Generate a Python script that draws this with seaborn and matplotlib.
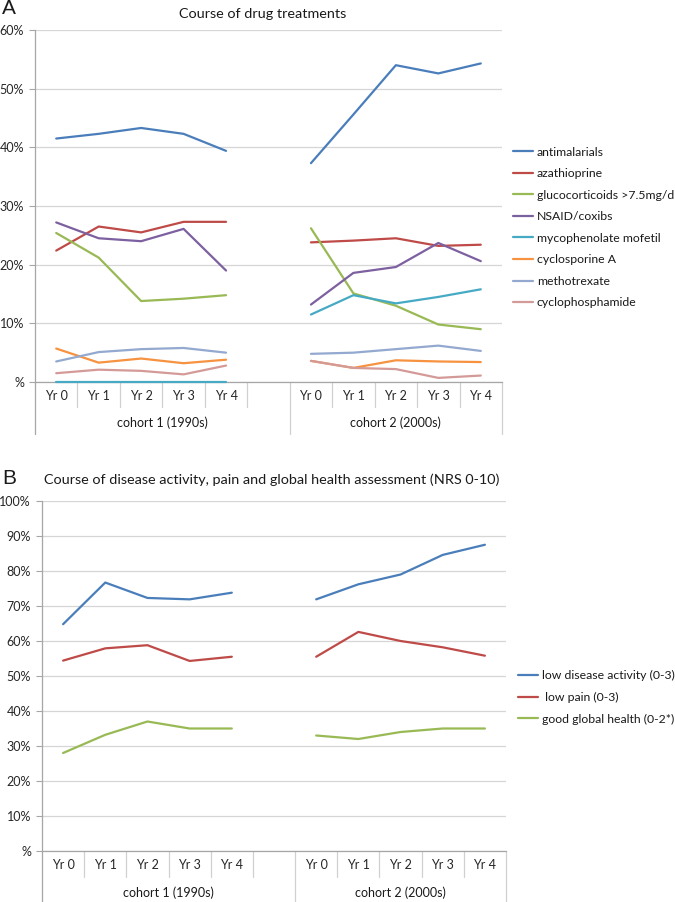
import numpy as np
import pandas as pd
import matplotlib
matplotlib.use("Agg")
import matplotlib.pyplot as plt
import seaborn as sns

# ---------------- data ----------------
years = ["Yr 0", "Yr 1", "Yr 2", "Yr 3", "Yr 4"]
cohorts = ["cohort 1 (1990s)", "cohort 2 (2000s)"]

drug_names = ["antimalarials", "azathioprine", "glucocorticoids >7.5mg/d",
              "NSAID/coxibs", "mycophenolate mofetil", "cyclosporine A",
              "methotrexate", "cyclophosphamide"]
# values in %, cohort 1 (Yr0..Yr4) then cohort 2 (Yr0..Yr4)
antimalarials    = [41.5, 42.3, 43.3, 42.3, 39.4,   37.3, 45.6, 54.0, 52.6, 54.3]
azathioprine     = [22.4, 26.5, 25.5, 27.3, 27.3,   23.8, 24.1, 24.5, 23.2, 23.4]
glucocorticoids  = [25.4, 21.2, 13.8, 14.2, 14.8,   26.2, 15.1, 13.0, 9.8, 9.0]
nsaid_coxibs     = [27.2, 24.5, 24.0, 26.1, 19.0,   13.2, 18.6, 19.6, 23.7, 20.6]
mycophenolate    = [0.0, 0.0, 0.0, 0.0, 0.0,        11.5, 14.8, 13.4, 14.5, 15.8]
cyclosporine     = [5.7, 3.3, 4.0, 3.2, 3.8,        3.6, 2.4, 3.7, 3.5, 3.4]
methotrexate     = [3.5, 5.1, 5.6, 5.8, 5.0,        4.8, 5.0, 5.6, 6.2, 5.3]
cyclophosphamide = [1.5, 2.1, 1.9, 1.3, 2.8,        3.6, 2.4, 2.2, 0.7, 1.1]
drug_values = [antimalarials, azathioprine, glucocorticoids, nsaid_coxibs,
               mycophenolate, cyclosporine, methotrexate, cyclophosphamide]
drug_colors = ["#4A7EBB", "#BE4B48", "#98B954", "#7D60A0",
               "#46AAC5", "#F69240", "#93A9CF", "#D49A98"]

outcome_names = ["low disease activity (0-3)", " low pain (0-3)",
                 "good global health (0-2*)"]
low_disease_activity = [64.8, 76.7, 72.3, 71.9, 73.8,   71.9, 76.2, 79.0, 84.6, 87.5]
low_pain             = [54.4, 57.9, 58.8, 54.3, 55.5,   55.5, 62.6, 60.0, 58.2, 55.8]
good_global_health   = [28.0, 33.2, 37.0, 35.0, 35.0,   33.0, 32.0, 34.0, 35.0, 35.0]
outcome_values = [low_disease_activity, low_pain, good_global_health]
outcome_colors = ["#4A7EBB", "#BE4B48", "#98B954"]

yticks_A = [0, 10, 20, 30, 40, 50, 60]
yticklabels_A = ["%", "10%", "20%", "30%", "40%", "50%", "60%"]
yticks_B = [0, 10, 20, 30, 40, 50, 60, 70, 80, 90, 100]
yticklabels_B = ["%", "10%", "20%", "30%", "40%", "50%", "60%", "70%",
                 "80%", "90%", "100%"]

title_A = "Course of drug treatments"
title_B = "Course of disease activity, pain and global health assessment (NRS 0-10)"


def long_frame(names, values):
    rows = []
    n = len(years)
    for name, vals in zip(names, values):
        for ci, coh in enumerate(cohorts):
            for yi, yr in enumerate(years):
                rows.append({"series": name, "cohort": coh,
                             "pos": yi + ci * (n + 1),
                             "value": vals[ci * n + yi]})
    return pd.DataFrame(rows)


dfA = long_frame(drug_names, drug_values)
dfB = long_frame(outcome_names, outcome_values)

# ---------------- style ----------------
sns.set_theme(style="white")
plt.rcParams['font.family'] = ['Lato', 'DejaVu Sans']
plt.rcParams['text.color'] = '#1a1a1a'

W, H = 675, 902
fig = plt.figure(figsize=(W / 100, H / 100), dpi=100)

GRID = "#D6D6D6"
AXC = "#A6A6A6"
SEP = "#D0D0D0"
FS_TICK = 9
FS_LEG = 8.8
FS_TITLE = 10.4


def px_axes(l, r, t, b):
    return fig.add_axes([l / W, 1 - b / H, (r - l) / W, (b - t) / H])


def style_axis(ax, yticks, yticklabels, ymax, row_px, low_px, coh_px, hpx):
    ax.set_xlim(-0.5, 2 * len(years) + 0.5)
    ax.set_ylim(0, ymax)
    pos = [yi + ci * (len(years) + 1) for ci in range(len(cohorts))
           for yi in range(len(years))]
    ax.set_xticks(pos)
    ax.set_xticklabels(years * len(cohorts), fontsize=FS_TICK)
    ax.set_yticks(yticks)
    ax.set_yticklabels(yticklabels, fontsize=FS_TICK)
    ax.tick_params(axis="x", length=0, pad=6)
    ax.tick_params(axis="y", length=4, width=0.8, color=AXC, pad=4,
                   direction="out", left=True)
    ax.yaxis.grid(True, color=GRID, lw=0.9)
    ax.xaxis.grid(False)
    ax.set_axisbelow(True)
    for s in ["top", "right"]:
        ax.spines[s].set_visible(False)
    ax.spines["left"].set_color(AXC)
    ax.spines["bottom"].set_color(AXC)
    ax.spines["left"].set_linewidth(0.9)
    ax.spines["bottom"].set_linewidth(0.9)
    ax.set_xlabel("")
    ax.set_ylabel("")
    tr = ax.get_xaxis_transform()
    n = len(years)
    bounds = [k - 0.5 for k in range(2 * n + 2)]
    majors = [-0.5, n + 0.5, 2 * n + 0.5]
    for b in bounds:
        if b in majors:
            ax.plot([b, b], [0, -low_px / hpx], transform=tr,
                    color=AXC if b == -0.5 else SEP, lw=0.9, clip_on=False)
        else:
            ax.plot([b, b], [0, -row_px / hpx], transform=tr, color=SEP,
                    lw=0.9, clip_on=False)
    centers = [(-0.5 + n + 0.5) / 2.0, (n + 0.5 + 2 * n + 0.5) / 2.0]
    for c, lab in zip(centers, cohorts):
        ax.text(c, -coh_px / hpx, lab, transform=tr, ha="center", va="center",
                fontsize=FS_TICK)


# ---------------- panel A ----------------
axA = px_axes(35, 502, 30, 382)
sns.lineplot(data=dfA, x="pos", y="value", hue="series", units="cohort",
             estimator=None, hue_order=drug_names, palette=drug_colors,
             lw=1.6, ax=axA, legend=True, zorder=3, clip_on=False)
style_axis(axA, yticks_A, yticklabels_A, 60, 25, 52, 41, 352)
hA, lA = axA.get_legend_handles_labels()
axA.legend(hA, lA, loc="center left", bbox_to_anchor=(513 / W, 1 - 227.5 / H),
           bbox_transform=fig.transFigure, frameon=False, fontsize=FS_LEG,
           handlelength=1.6, handletextpad=0.35, labelspacing=0.86,
           borderpad=0, borderaxespad=0)

fig.text(263 / W, 1 - 14 / H, title_A, ha="center", va="center", fontsize=FS_TITLE)
fig.text(9 / W, 1 - 9 / H, "A", ha="center", va="center", fontsize=15,
         family=["Liberation Sans", "DejaVu Sans"])

# ---------------- panel B ----------------
axB = px_axes(42, 506, 501, 851)
sns.lineplot(data=dfB, x="pos", y="value", hue="series", units="cohort",
             estimator=None, hue_order=outcome_names, palette=outcome_colors,
             lw=1.6, ax=axB, legend=True, zorder=3)
style_axis(axB, yticks_B, yticklabels_B, 100, 26, 60, 42, 350)
hB, lB = axB.get_legend_handles_labels()
axB.legend(hB, lB, loc="center left", bbox_to_anchor=(518 / W, 1 - 697.5 / H),
           bbox_transform=fig.transFigure, frameon=False, fontsize=FS_LEG,
           handlelength=1.6, handletextpad=0.35, labelspacing=0.86,
           borderpad=0, borderaxespad=0)

fig.text(44 / W, 1 - 480 / H, title_B, ha="left", va="center", fontsize=FS_TITLE)
fig.text(9 / W, 1 - 478 / H, "B", ha="center", va="center", fontsize=15,
         family=["Liberation Sans", "DejaVu Sans"])

fig.savefig("out.png", dpi=100)
